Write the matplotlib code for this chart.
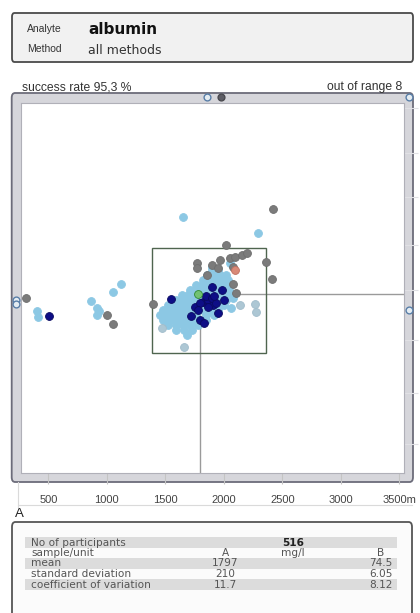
import numpy as np
import matplotlib
matplotlib.use("Agg")
import matplotlib.pyplot as plt
from matplotlib.patches import FancyBboxPatch, Rectangle

W, H = 420, 613

# ---- header ----
analyte = "albumin"
method = "all methods"
success_rate = "95,3"
n_out_of_range = 8

# ---- axes (sample A on x, sample B on y) ----
x_ticks = [500, 1000, 1500, 2000, 2500, 3000, 3500]
x_ticklabels = ["500", "1000", "1500", "2000", "2500", "3000", "3500m"]
y_ticks = [21, 39, 58, 76, 92, 109, 125, 141]
x_lim = (264, 3540)
y_lim = (10.6, 142.8)
band_x = (220, 3579)       # where out-of-range results are parked
band_y = (9.0, 144.7)

mean_A, mean_B = 1797, 74.5
limits_A = (1386, 2361)
limits_B = (53.4, 90.9)

# ---- results (A, B) ----
light_pts = [
    (1899, 83.1), (1950, 83.1),
    (1856, 81.3), (1908, 81.3), (1968, 81.3), (2019, 81.3),
    (1822, 79.5), (1873, 79.5), (1933, 79.5), (1985, 79.5), (2036, 79.5),
    (1762, 77.7), (1814, 77.7), (1865, 77.7), (1916, 77.7), (1968, 77.7), (2019, 77.7),
    (1711, 75.9), (1762, 75.9), (1822, 75.9), (1882, 75.9), (1933, 75.9), (1993, 75.9), (2045, 75.9),
    (1643, 74.1), (1694, 74.1), (1745, 74.1), (1805, 74.1), (1865, 74.1), (1925, 74.1), (1985, 74.1),
    (2053, 74.1), (2079, 73.0),
    (1591, 72.4), (1643, 72.4), (1694, 72.4), (1754, 72.4), (1882, 72.4), (1950, 72.4), (2019, 72.4),
    (1523, 70.6), (1574, 70.6), (1626, 70.6), (1677, 70.6), (1728, 70.6), (1797, 70.6), (1865, 70.6),
    (1933, 70.6), (2002, 70.6), (2062, 69.5),
    (1480, 68.8), (1540, 68.8), (1591, 68.8), (1643, 68.8), (1694, 68.8), (1754, 68.8), (1822, 68.8),
    (1882, 68.8), (1950, 68.8),
    (1455, 67.0), (1506, 67.0), (1557, 67.0), (1608, 67.0), (1660, 67.0), (1762, 67.0), (1848, 67.0),
    (1916, 67.0),
    (1480, 65.2), (1540, 65.2), (1591, 65.2), (1643, 65.2), (1694, 65.2), (1745, 65.2), (1848, 65.2),
    (1523, 63.4), (1591, 63.4), (1651, 63.4), (1711, 63.4), (1779, 63.4),
    (1591, 61.6), (1660, 61.6), (1728, 61.6),
    (1685, 59.9),
    (403, 68.5), (412, 66.3), (865, 72.0), (916, 69.5), (916, 67.0), (935, 68.3),
    (1053, 75.2), (1121, 78.1), (1651, 102.0), (2292, 96.3), (1899, 84.1), (2053, 85.6),
]
pale_pts = [(1472, 62.4), (1660, 55.6), (2139, 70.6), (2267, 70.9), (2275, 68.1)]
gray_pts = [
    (307, 72.9), (1002, 67.0), (1053, 63.8), (1395, 70.9), (2420, 104.8), (2019, 92.0),
    (2360, 85.9), (2412, 79.9), (2104, 74.9), (2079, 78.1), (1771, 85.6), (1771, 83.8),
    (1899, 84.9), (1968, 86.6), (2053, 87.4), (2096, 87.7), (2156, 88.4), (2198, 89.1),
    (1950, 83.8), (1856, 81.3), (2079, 84.1),
]
navy_pts = [
    (506, 66.6), (1549, 72.7), (1720, 66.6), (1797, 65.2), (1831, 64.1), (1899, 77.0),
    (1985, 75.9), (1950, 67.7), (1754, 69.9), (1822, 71.6), (1865, 72.4), (1908, 70.6),
    (1848, 73.8), (1899, 73.1), (1933, 71.3), (1797, 71.3), (1865, 69.9), (1916, 73.8),
    (2002, 72.4), (1779, 68.8),
]
orange_pts = [(2096, 83.1)]
green_pts = [(1779, 74.5)]

# out of range: (A, B, style)
outside_pts = [
    (1856, 160, "open"), (1976, 170, "gray"), (3800, 160, "open"),
    (150, 72.4, "open"), (150, 70.9, "open"), (3800, 68.8, "open"),
]

# ---- summary table ----
tab_labels = ["No of participants", "sample/unit", "mean", "standard deviation",
              "coefficient of variation"]
tab_A = ["", "A", "1797", "210", "11.7"]
tab_unit = ["516", "mg/l", "", "", ""]
tab_B = ["", "B", "74.5", "6.05", "8.12"]


def fx(x):
    return x / W


def fy(y):
    return 1 - y / H


fig = plt.figure(figsize=(W / 100, H / 100), dpi=100)
fig.patch.set_facecolor("white")


def px_box(x0, y0, x1, y1, r=0.006, **kw):
    p = FancyBboxPatch((fx(x0), fy(y1)), (x1 - x0) / W, (y1 - y0) / H,
                       boxstyle=f"round,pad=0,rounding_size={r}",
                       transform=fig.transFigure, **kw)
    fig.add_artist(p)
    return p


# header box
px_box(12, 13, 413, 62, fc="#f1f1f1", ec="#4a4a4a", lw=1.3, zorder=-1)
fig.text(fx(27), fy(29), "Analyte", fontsize=7.5, color="#333", family="Liberation Sans",
         va="center")
fig.text(fx(27), fy(49), "Method", fontsize=7.5, color="#333", family="Liberation Sans",
         va="center")
fig.text(fx(88), fy(30), analyte, fontsize=11, weight="bold", color="#111", va="center")
fig.text(fx(88), fy(50), method, fontsize=9, color="#333", va="center")

fig.text(fx(22), fy(87), f"success rate {success_rate} %", fontsize=8.7, color="#333",
         family="Liberation Sans", va="center")
fig.text(fx(402), fy(87), f"out of range {n_out_of_range}", fontsize=8.7, color="#333",
         family="Liberation Sans", va="center", ha="right")

# grey frame round the plot
px_box(11.7, 93, 413, 482, r=0.008, fc="#d6d6db", ec="#6c6c7a", lw=1.3, zorder=-1)

ax = fig.add_axes([fx(20.7), fy(473), (404 - 20.7) / W, (473 - 102.7) / H])
ax.set_facecolor("white")
for s in ax.spines.values():
    s.set_color("#b0b0b8")
    s.set_linewidth(0.8)
ax.set_xlim(*x_lim)
ax.set_ylim(*y_lim)
ax.set_xticks(x_ticks, x_ticklabels, family="Liberation Sans")
ax.tick_params(axis="x", length=8, color="#c4c4c4", pad=7.5, labelsize=8, labelcolor="#444")
ax.yaxis.tick_right()
ax.set_yticks(y_ticks, [""] * len(y_ticks))
ax.tick_params(axis="y", length=10, color="#e0e0e4")

# target cross and acceptance box
ax.plot([mean_A, x_lim[1]], [mean_B, mean_B], color="#9a9a9a", lw=1, zorder=1)
ax.plot([mean_A, mean_A], [mean_B, y_lim[0]], color="#9a9a9a", lw=1, zorder=1)
ax.add_patch(Rectangle((limits_A[0], limits_B[0]), limits_A[1] - limits_A[0],
                       limits_B[1] - limits_B[0], fill=False, ec="#4f654f", lw=1, zorder=2))


def scat(pts, **kw):
    a = np.array(pts, dtype=float)
    ax.scatter(a[:, 0], a[:, 1], s=32, linewidths=0.6, **kw)


scat(light_pts, c="#8cc8e4", edgecolors="#8cc8e4", zorder=3)
scat(pale_pts, c="#adc7d4", edgecolors="#a0bccb", zorder=3)
scat(gray_pts, c="#7b7b7b", edgecolors="#6e6e6e", zorder=4)
scat(navy_pts, c="#0e0e86", edgecolors="#0a0a60", zorder=5)
scat(orange_pts, c="#d98a78", edgecolors="#c07060", zorder=5)
scat(green_pts, c="#72c272", edgecolors="#2f8a2f", zorder=6)

for a_val, b_val, kind in outside_pts:
    xa = np.clip(a_val, *band_x)
    yb = np.clip(b_val, *band_y)
    if kind == "gray":
        ax.scatter([xa], [yb], s=24, c="#5e5e66", edgecolors="#4a4a50", clip_on=False, zorder=7)
    else:
        ax.scatter([xa], [yb], s=24, c="#e4ecf2", edgecolors="#5a7fa8", linewidths=1,
                   clip_on=False, zorder=7)

# separators under the axis
fig.add_artist(plt.Line2D([fx(18), fx(412)], [fy(505), fy(505)], color="#dadada", lw=0.8))
fig.add_artist(plt.Line2D([fx(18), fx(18)], [fy(482), fy(507)], color="#dadada", lw=0.8))
fig.text(fx(15), fy(514), "A", fontsize=9.5, color="#222", family="Liberation Sans",
         va="center")

# summary table
px_box(12, 522, 412, 640, r=0.008, fc="#fbfbfb", ec="#555555", lw=1.3, zorder=-1)
row_h = 10.5
first = 542.5
for i, lab in enumerate(tab_labels):
    yc = first + i * row_h
    if i % 2 == 0:
        fig.add_artist(Rectangle((fx(25), fy(yc + row_h / 2)), (397 - 25) / W, row_h / H,
                                 transform=fig.transFigure, fc="#dcdcdc", ec="none", zorder=0))
    kw = dict(fontsize=7.6, color="#555", va="center", zorder=2)
    fig.text(fx(31), fy(yc), lab, **kw)
    fig.text(fx(225), fy(yc), tab_A[i], ha="center", **kw)
    if i == 0:
        fig.text(fx(293), fy(yc), tab_unit[i], ha="center", weight="bold", fontsize=7.6,
                 color="#222", va="center", zorder=2)
    else:
        fig.text(fx(293), fy(yc), tab_unit[i], ha="center", **kw)
    fig.text(fx(381), fy(yc), tab_B[i], ha="center", **kw)

fig.savefig("out.png", dpi=100)
